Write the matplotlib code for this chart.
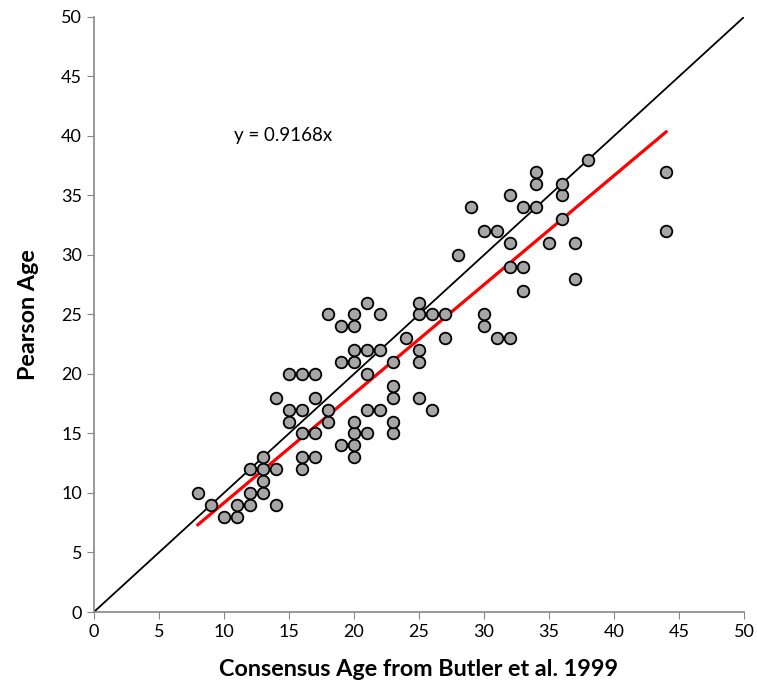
import numpy as np
import matplotlib.pyplot as plt

# Consensus age (Butler et al. 1999) vs Pearson age
consensus_age = [8, 9, 10, 11, 11, 12, 12, 12, 13, 13, 13, 13, 14, 14, 14,
                 15, 15, 15, 16, 16, 16, 16, 16, 17, 17, 17, 17, 18, 18, 18,
                 19, 19, 19, 20, 20, 20, 20, 20, 20, 20, 20, 21, 21, 21, 21,
                 21, 22, 22, 22, 23, 23, 23, 23, 23, 24, 25, 25, 25, 25, 25,
                 26, 26, 27, 27, 28, 29, 30, 30, 30, 31, 31, 32, 32, 32, 32,
                 33, 33, 33, 34, 34, 34, 35, 36, 36, 36, 37, 37, 38, 44, 44]
pearson_age = [10, 9, 8, 8, 9, 9, 10, 12, 10, 11, 12, 13, 12, 9, 18,
               16, 17, 20, 12, 13, 15, 17, 20, 13, 15, 18, 20, 16, 17, 25,
               14, 21, 24, 13, 14, 15, 16, 21, 22, 24, 25, 15, 17, 20, 22,
               26, 17, 22, 25, 15, 16, 18, 19, 21, 23, 18, 21, 22, 25, 26,
               17, 25, 23, 25, 30, 34, 24, 25, 32, 23, 32, 23, 29, 31, 35,
               27, 29, 34, 34, 36, 37, 31, 33, 35, 36, 28, 31, 38, 32, 37]

slope = 0.9168
x_ticks = [0, 5, 10, 15, 20, 25, 30, 35, 40, 45, 50]
y_ticks = [0, 5, 10, 15, 20, 25, 30, 35, 40, 45, 50]

plt.rcParams['font.family'] = ['Lato', 'DejaVu Sans']

fig = plt.figure(figsize=(7.57, 6.92), dpi=100)
ax = fig.add_axes([0.124, 0.1156, 0.859, 0.86])

# 1:1 line
ax.plot([0, 50], [0, 50], color='black', lw=1.3, zorder=2)

# trend line through origin
fit_x = np.array([min(consensus_age), max(consensus_age)])
ax.plot(fit_x, slope * fit_x, color='#FF0000', lw=2.3, zorder=3)

ax.scatter(consensus_age, pearson_age, s=70, facecolor='#A6A6A6',
           edgecolor='black', linewidth=1.3, zorder=4)

ax.text(10.8, 40, 'y = 0.9168x', fontsize=13.5, va='center', ha='left')

ax.set_xlim(0, 50)
ax.set_ylim(0, 50)
ax.set_xticks(x_ticks)
ax.set_yticks(y_ticks)
ax.tick_params(direction='out', length=5, color='#868686', labelsize=13)

for side in ['top', 'right']:
    ax.spines[side].set_visible(False)
for side in ['left', 'bottom']:
    ax.spines[side].set_color('#868686')
    ax.spines[side].set_linewidth(1.2)

ax.set_xlabel('Consensus Age from Butler et al. 1999', fontsize=16.8,
              fontweight='bold', labelpad=14)
ax.set_ylabel('Pearson Age', fontsize=16.8, fontweight='bold', labelpad=16)

fig.savefig('out.png', dpi=100)
